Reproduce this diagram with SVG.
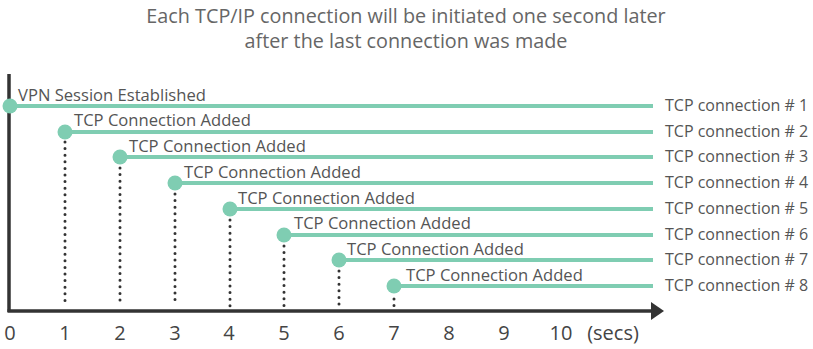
<svg xmlns="http://www.w3.org/2000/svg" width="813" height="349" viewBox="0 0 813 349">
<defs>
<style>
.t{font-family:"Open Sans","Liberation Sans",sans-serif;fill:#555;}
.lab{font-size:16.6px;}
.rl{font-size:16px;}
.ax{font-size:20px;fill:#444;}
.title{font-size:19.8px;fill:#666;text-anchor:middle;}
.ln{stroke:#7fcdb2;stroke-width:4;fill:none;}
.dot{fill:#7fcdb2;}
.dt{stroke:#333;stroke-width:3;stroke-linecap:round;stroke-dasharray:0 6.6;fill:none;}
.axis{stroke:#333;stroke-width:3.5;fill:none;}
</style>
</defs>
<rect width="813" height="349" fill="#fff"/>
<g id="title">
<text class="t title" x="406" y="23">Each TCP/IP connection will be initiated one second later</text>
<text class="t title" x="406" y="48">after the last connection was made</text>
</g>
<g id="axes">
<line class="axis" x1="9" y1="74" x2="9" y2="312"/>
<line class="axis" x1="7.5" y1="311" x2="654" y2="311"/>
<polygon points="651,302 664,311 651,320" fill="#333"/>
<g class="t ax" text-anchor="middle">
<text x="10" y="340">0</text>
<text x="65" y="340">1</text>
<text x="120" y="340">2</text>
<text x="175" y="340">3</text>
<text x="229" y="340">4</text>
<text x="284" y="340">5</text>
<text x="339" y="340">6</text>
<text x="394" y="340">7</text>
<text x="449" y="340">8</text>
<text x="504" y="340">9</text>
<text x="561" y="340">10</text>
<text x="613" y="340">(secs)</text>
</g>
</g>
<g id="connectors">
<line class="dt" x1="65" y1="142" x2="65" y2="303"/>
<line class="dt" x1="120" y1="168" x2="120" y2="306"/>
<line class="dt" x1="175" y1="194" x2="175" y2="306"/>
<line class="dt" x1="230" y1="220" x2="230" y2="306"/>
<line class="dt" x1="284" y1="246" x2="284" y2="306"/>
<line class="dt" x1="339" y1="271" x2="339" y2="306"/>
<line class="dt" x1="394" y1="299" x2="394" y2="306"/>
</g>
<g id="conn1"><line class="ln" x1="10" y1="106" x2="653" y2="106"/><circle class="dot" cx="10" cy="106" r="7.5"/><text class="t lab" x="18" y="101">VPN Session Established</text><text class="t rl" x="665" y="111">TCP connection # 1</text></g>
<g id="conn2"><line class="ln" x1="65" y1="132" x2="653" y2="132"/><circle class="dot" cx="65" cy="132" r="7.5"/><text class="t lab" x="74" y="126">TCP Connection Added</text><text class="t rl" x="665" y="137">TCP connection # 2</text></g>
<g id="conn3"><line class="ln" x1="120" y1="157" x2="653" y2="157"/><circle class="dot" cx="120" cy="157" r="7.5"/><text class="t lab" x="129" y="152">TCP Connection Added</text><text class="t rl" x="665" y="162">TCP connection # 3</text></g>
<g id="conn4"><line class="ln" x1="175" y1="183" x2="653" y2="183"/><circle class="dot" cx="175" cy="183" r="7.5"/><text class="t lab" x="184" y="178">TCP Connection Added</text><text class="t rl" x="665" y="188">TCP connection # 4</text></g>
<g id="conn5"><line class="ln" x1="230" y1="209" x2="653" y2="209"/><circle class="dot" cx="230" cy="209" r="7.5"/><text class="t lab" x="238" y="204">TCP Connection Added</text><text class="t rl" x="665" y="214">TCP connection # 5</text></g>
<g id="conn6"><line class="ln" x1="284" y1="235" x2="653" y2="235"/><circle class="dot" cx="284" cy="235" r="7.5"/><text class="t lab" x="294" y="229">TCP Connection Added</text><text class="t rl" x="665" y="240">TCP connection # 6</text></g>
<g id="conn7"><line class="ln" x1="339" y1="260" x2="653" y2="260"/><circle class="dot" cx="339" cy="260" r="7.5"/><text class="t lab" x="347" y="255">TCP Connection Added</text><text class="t rl" x="665" y="265">TCP connection # 7</text></g>
<g id="conn8"><line class="ln" x1="394" y1="286" x2="653" y2="286"/><circle class="dot" cx="394" cy="286" r="7.5"/><text class="t lab" x="406" y="281">TCP Connection Added</text><text class="t rl" x="665" y="291">TCP connection # 8</text></g>
</svg>
